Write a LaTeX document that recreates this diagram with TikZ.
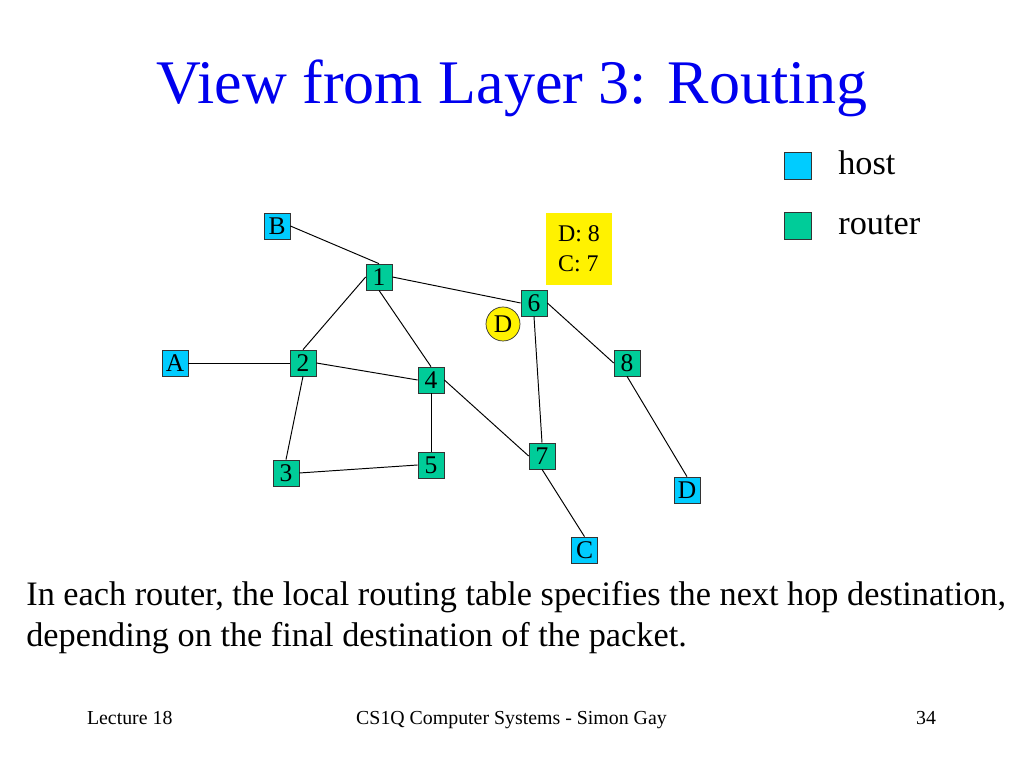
\documentclass[tikz,border=0pt]{standalone}
\usepackage{fontspec}
\setmainfont{Liberation Serif}
\usepackage{tikz}

\definecolor{hostcol}{RGB}{0,204,255}
\definecolor{routercol}{RGB}{0,204,153}
\definecolor{titleblue}{RGB}{0,0,238}
\tikzset{
    host/.style={draw=black!80, fill=hostcol, minimum size=0.52cm, inner sep=0pt, font=\fontsize{14.5}{16}\selectfont},
    router/.style={host, fill=routercol},
    link/.style={black, line width=0.55pt},
    bodytext/.style={anchor=base west, inner sep=0pt, font=\fontsize{19.5}{21}\selectfont},
    foot/.style={anchor=base, inner sep=0pt, font=\fontsize{11.3}{13}\selectfont}
}

\begin{document}
\begin{tikzpicture}
    \useasboundingbox (0, 0) rectangle (20.48, 15.36);
    \node[anchor=base, inner sep=0pt, text=titleblue, font=\fontsize{35.3}{40}\selectfont] (title) at (10.24, 13.28) {View from Layer 3: Routing};

    \node[host, minimum size=0.54cm] (hostkey) at (15.95, 12.04) {};
    \node[router, minimum size=0.54cm] (routerkey) at (15.95, 10.84) {};
    \node[bodytext] (hostlabel) at (16.76, 11.86) {host};
    \node[bodytext] (routerlabel) at (16.76, 10.66) {router};

    \node[fill=yellow, minimum width=1.32cm, minimum height=1.44cm, align=left, font=\fontsize{13.6}{17}\selectfont] (table) at (11.58, 10.38) {D: 8\\C: 7};

    \node[host] (B) at (5.54, 10.84) {B};
    \node[host] (A) at (3.50, 8.10) {A};
    \node[host] (C) at (11.69, 4.36) {C};
    \node[host] (D) at (13.74, 5.56) {D};
    \node[router] (n1) at (7.58, 9.82) {1};
    \node[router] (n2) at (6.06, 8.10) {2};
    \node[router] (n3) at (5.72, 5.90) {3};
    \node[router] (n4) at (8.62, 7.76) {4};
    \node[router] (n5) at (8.62, 6.06) {5};
    \node[router] (n6) at (10.68, 9.30) {6};
    \node[router] (n7) at (10.84, 6.24) {7};
    \node[router] (n8) at (12.54, 8.10) {8};
    \node[circle, draw=black!80, fill=yellow, minimum size=0.68cm, inner sep=0pt, font=\fontsize{14.5}{16}\selectfont] (packet) at (10.06, 8.88) {D};

    \draw[link] (B.east) -- (n1.north);
    \draw[link] (n1.east) -- (n6.west);
    \draw[link] (n1.west) -- (n2.north);
    \draw[link] (n1.south) -- (n4.north);
    \draw[link] (A.east) -- (n2.west);
    \draw[link] (n2.east) -- (n4.west);
    \draw[link] (n2.south) -- (n3.north);
    \draw[link] (n3.east) -- (n5.west);
    \draw[link] (n4.south) -- (n5.north);
    \draw[link] (n4.east) -- (n7.west);
    \draw[link] (n6.south) -- (n7.north);
    \draw[link] (n6.east) -- (n8.west);
    \draw[link] (n8.south) -- (D.north);
    \draw[link] (n7.south) -- (C.north);

    \node[bodytext] (line1) at (0.52, 3.24) {In each router, the local routing table specifies the next hop destination,};
    \node[bodytext] (line2) at (0.52, 2.42) {depending on the final destination of the packet.};

    \node[foot] (lecture) at (2.595, 0.86) {Lecture 18};
    \node[foot] (course) at (10.23, 0.86) {CS1Q Computer Systems - Simon Gay};
    \node[foot] (page) at (18.52, 0.86) {34};
\end{tikzpicture}
\end{document}
